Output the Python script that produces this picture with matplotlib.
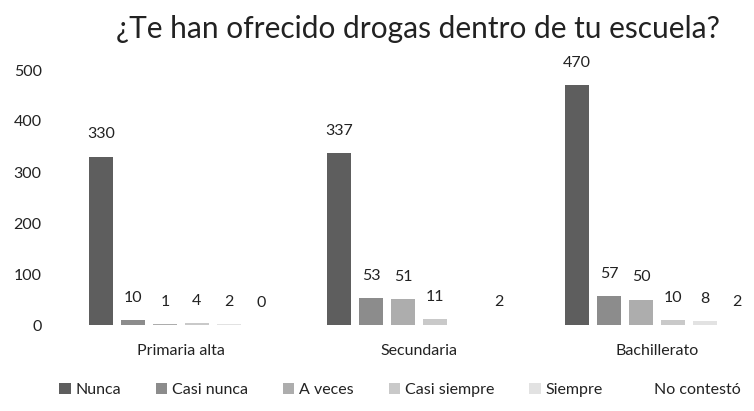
import matplotlib.pyplot as plt
import numpy as np

plt.rcParams['font.family'] = ['Lato', 'DejaVu Sans']

categorias = ['Primaria alta', 'Secundaria', 'Bachillerato']
series = ['Nunca', 'Casi nunca', 'A veces', 'Casi siempre', 'Siempre', 'No contestó']
nunca = [330, 337, 470]
casi_nunca = [10, 53, 57]
a_veces = [1, 51, 50]
casi_siempre = [4, 11, 10]
siempre = [2, 0, 8]
no_contesto = [0, 2, 2]
# la etiqueta de "Siempre" en Secundaria no aparece en el original
etiquetas_ocultas = {(4, 1)}

valores = [nunca, casi_nunca, a_veces, casi_siempre, siempre, no_contesto]
colores = ['#5e5e5e', '#8c8c8c', '#adadad', '#c9c9c9', '#e2e2e2', '#ffffff']

fig = plt.figure(figsize=(7.54, 4.11), dpi=100)
ax = fig.add_axes([50 / 754, 1 - 325 / 411, 700 / 754, 255 / 411])

x = np.arange(len(categorias))
paso = 0.134
ancho = 0.10
for i, (nombre, vals) in enumerate(zip(series, valores)):
    pos = x + (i - 2.5) * paso
    barras = ax.bar(pos, vals, ancho, color=colores[i], label=nombre, edgecolor='none')
    etiquetas = ['' if (i, j) in etiquetas_ocultas else str(v) for j, v in enumerate(vals)]
    ax.bar_label(barras, labels=etiquetas, padding=11, fontsize=11.5, color='#222222')

ax.set_xlim((50 - 181) / 238, (750 - 181) / 238)
ax.set_ylim(0, 500)
ax.set_yticks(range(0, 501, 100))
ax.set_xticks(x)
ax.set_xticklabels(categorias, fontsize=11.5, color='#222222')
ax.tick_params(axis='y', labelsize=11.5, colors='#222222', length=0, pad=6)
ax.tick_params(axis='x', length=0, pad=14)
for s in ax.spines.values():
    s.set_visible(False)

fig.text(0.555, 0.93, '¿Te han ofrecido drogas dentro de tu escuela?',
         ha='center', va='center', fontsize=21.5, color='#222222')

ax.legend(loc='center', bbox_to_anchor=(0.5, 1 - (390 - 70) / 255),
          ncol=6, frameon=False, fontsize=11.5, handlelength=0.7,
          handleheight=0.7, columnspacing=2.2, handletextpad=0.3,
          labelcolor='#222222')

fig.savefig('out.png', dpi=100)
